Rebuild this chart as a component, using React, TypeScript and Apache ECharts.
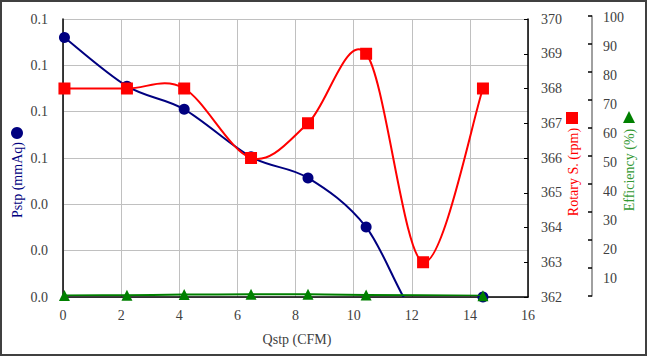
import React, { useEffect, useRef } from "react";
import * as echarts from "echarts";

// Data
const qstp = [0.05, 2.2, 4.17, 6.47, 8.43, 10.43, 12.39, 14.45];
const pstp = [0.112, 0.091, 0.081, 0.0605, 0.0514, 0.0302, -0.011, 0];
const rotarySpeed = [368, 368, 368, 366, 367, 369, 363, 368];
const efficiency: (number | null)[] = [0.2, 0.3, 0.5, 0.6, 0.6, 0.4, null, 0.1];

const xTitle = "Qstp (CFM)";
const pstpTitle = "Pstp (mmAq)";
const rotaryTitle = "Rotary S. (rpm)";
const effTitle = "Efficiency (%)";

const FONT = "Liberation Serif";
const LABEL_COLOR = "#404040";
const GRID_COLOR = "#c0c0c0";
const NAVY = "#000080";
const RED = "#ff0000";
const GREEN = "#008000";

// Excel-like smoothed line: cubic Bezier segments (Catmull-Rom, tension 1/6)
// computed in pixel space from the data via the axes' own scales (api.coord).
function smoothCurve(
  name: string,
  xAxisIndex: number,
  yAxisIndex: number,
  xs: number[],
  ys: (number | null)[],
  color: string,
  z: number
) {
  const pts = xs
    .map((x, i) => [x, ys[i]])
    .filter((p) => p[1] !== null) as number[][];
  return {
    name,
    type: "custom",
    xAxisIndex,
    yAxisIndex,
    z,
    silent: true,
    clip: true,
    data: pts.slice(0, -1).map((p, i) => [p[0], p[1], i]),
    encode: { x: 0, y: 1 },
    renderItem: (params: any, api: any) => {
      const i = params.dataIndex;
      const c = pts.map((p) => api.coord([p[0], p[1]]));
      const n = c.length;
      const p0 = c[Math.max(i - 1, 0)];
      const p1 = c[i];
      const p2 = c[i + 1];
      const p3 = c[Math.min(i + 2, n - 1)];
      const cs = params.coordSys;
      return {
        type: "bezierCurve",
        shape: {
          x1: p1[0],
          y1: p1[1],
          cpx1: p1[0] + (p2[0] - p0[0]) / 6,
          cpy1: p1[1] + (p2[1] - p0[1]) / 6,
          cpx2: p2[0] - (p3[0] - p1[0]) / 6,
          cpy2: p2[1] - (p3[1] - p1[1]) / 6,
          x2: p2[0],
          y2: p2[1],
        },
        style: { stroke: color, lineWidth: 2, fill: "none" },
        clipPath: {
          type: "rect",
          shape: { x: cs.x, y: cs.y - 6, width: cs.width, height: cs.height + 6 },
        },
      };
    },
  };
}

function markers(
  name: string,
  xAxisIndex: number,
  yAxisIndex: number,
  xs: number[],
  ys: (number | null)[],
  symbol: string,
  size: number,
  color: string,
  z: number
) {
  return {
    name,
    type: "scatter",
    xAxisIndex,
    yAxisIndex,
    z,
    clip: true,
    symbol,
    symbolSize: size,
    itemStyle: { color, opacity: 1 },
    data: xs.map((x, i) => [x, ys[i]]).filter((p) => p[1] !== null),
  };
}

export default function App() {
  const ref = useRef<HTMLDivElement>(null);

  useEffect(() => {
    if (!ref.current) return;
    const chart = echarts.init(ref.current, undefined, { renderer: "svg" });
    const labelStyle = { color: LABEL_COLOR, fontFamily: FONT, fontSize: 14 };

    const option: any = {
      animation: false,
      backgroundColor: "#ffffff",
      grid: [
        { left: 63, right: 119, top: 19, bottom: 59 },
        { left: 63, right: 119, top: 16, bottom: 60 },
        { left: 63, right: 119, top: 17, bottom: 49 },
      ],
      xAxis: [
        {
          gridIndex: 0,
          type: "value",
          min: 0,
          max: 16,
          interval: 2,
          axisLine: { show: true, onZero: false, lineStyle: { color: "#000", width: 1.5 } },
          axisTick: { show: false },
          axisLabel: { ...labelStyle, margin: 11 },
          splitLine: { show: true, lineStyle: { color: GRID_COLOR, width: 1 } },
        },
        { gridIndex: 1, type: "value", min: 0, max: 16, show: false },
        { gridIndex: 2, type: "value", min: 0, max: 16, show: false },
      ],
      yAxis: [
        {
          gridIndex: 0,
          type: "value",
          min: 0,
          max: 0.12,
          interval: 0.02,
          position: "left",
          axisLine: { show: true, onZero: false, lineStyle: { color: "#000", width: 1.5 } },
          axisTick: { show: false },
          axisLabel: {
            ...labelStyle,
            margin: 15,
            formatter: (v: number) => (Math.round(v * 10) / 10).toFixed(1),
          },
          splitLine: { show: true, lineStyle: { color: GRID_COLOR, width: 1 } },
        },
        {
          gridIndex: 0,
          type: "value",
          min: 362,
          max: 370,
          interval: 1,
          position: "right",
          axisLine: { show: true, onZero: false, lineStyle: { color: "#000", width: 1.5 } },
          axisTick: { show: true, inside: true, length: 4, lineStyle: { color: "#000" } },
          axisLabel: { ...labelStyle, margin: 13 },
          splitLine: { show: false },
        },
        {
          gridIndex: 1,
          type: "value",
          min: 0,
          max: 100,
          interval: 10,
          position: "right",
          offset: 64,
          axisLine: { show: true, onZero: false, lineStyle: { color: "#808080", width: 1.5 } },
          axisTick: { show: true, inside: true, length: 4, lineStyle: { color: "#000", width: 1.5 } },
          axisLabel: { show: false },
          splitLine: { show: false },
        },
        {
          gridIndex: 2,
          type: "value",
          min: 0,
          max: 100,
          interval: 10,
          position: "right",
          offset: 64,
          axisLine: { show: false },
          axisTick: { show: false },
          axisLabel: {
            ...labelStyle,
            margin: 11,
            formatter: (v: number) => (v === 0 ? "" : String(v)),
          },
          splitLine: { show: false },
        },
      ],
      series: [
        smoothCurve(pstpTitle, 0, 0, qstp, pstp, NAVY, 2),
        markers(pstpTitle, 0, 0, qstp, pstp, "circle", 11, NAVY, 2),
        smoothCurve(rotaryTitle, 0, 1, qstp, rotarySpeed, RED, 3),
        markers(rotaryTitle, 0, 1, qstp, rotarySpeed, "rect", 12, RED, 3),
        smoothCurve(effTitle, 1, 2, qstp, efficiency, GREEN, 4),
        markers(effTitle, 1, 2, qstp, efficiency, "triangle", 11, GREEN, 4),
      ],
      graphic: [
        {
          type: "rect",
          shape: { x: 1, y: 1, width: 645, height: 354 },
          style: { fill: "none", stroke: "#404040", lineWidth: 2 },
          silent: true,
        },
        {
          type: "text",
          x: 297,
          y: 339,
          style: {
            text: xTitle,
            fill: LABEL_COLOR,
            fontFamily: FONT,
            fontSize: 14,
            align: "center",
            verticalAlign: "middle",
          },
        },
        {
          type: "circle",
          shape: { cx: 17, cy: 133, r: 6 },
          style: { fill: NAVY },
        },
        {
          type: "text",
          x: 17,
          y: 180,
          rotation: Math.PI / 2,
          style: {
            text: pstpTitle,
            fill: NAVY,
            fontFamily: FONT,
            fontSize: 14,
            align: "center",
            verticalAlign: "middle",
          },
        },
        {
          type: "rect",
          shape: { x: 566, y: 112, width: 12, height: 12 },
          style: { fill: RED },
        },
        {
          type: "text",
          x: 573,
          y: 172,
          rotation: Math.PI / 2,
          style: {
            text: rotaryTitle,
            fill: RED,
            fontFamily: FONT,
            fontSize: 14,
            align: "center",
            verticalAlign: "middle",
          },
        },
        {
          type: "polygon",
          shape: { points: [[629, 111], [623, 123], [635, 123]] },
          style: { fill: GREEN },
        },
        {
          type: "text",
          x: 629,
          y: 170,
          rotation: Math.PI / 2,
          style: {
            text: effTitle,
            fill: "#339933",
            fontFamily: FONT,
            fontSize: 14,
            align: "center",
            verticalAlign: "middle",
          },
        },
      ],
    };

    chart.setOption(option);
    return () => chart.dispose();
  }, []);

  return (
    <div
      ref={ref}
      style={{ position: "fixed", left: 0, top: 0, width: 647, height: 356, background: "#fff" }}
    />
  );
}
